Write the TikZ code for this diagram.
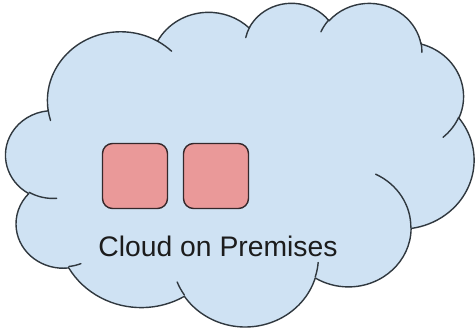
\documentclass[tikz,border=0pt]{standalone}
\usepackage{fontspec}
\setmainfont{Liberation Sans}
\definecolor{cloudfill}{HTML}{CFE2F3}
\definecolor{cloudedge}{HTML}{30383F}
\definecolor{boxfill}{HTML}{EA9999}
\definecolor{boxedge}{HTML}{35282B}
\definecolor{labeltext}{HTML}{1C1C1C}

% Convert a visual ellipse angle pair (start, sweep) into the parametric
% start/delta angles that TikZ's arc operation expects.
% #1 start macro, #2 delta macro, #3 x radius, #4 y radius, #5 start, #6 sweep
\newcommand\prepArc[6]{%
  \pgfmathsetmacro#1{atan2((#3)*sin(#5),(#4)*cos(#5))}%
  \pgfmathsetmacro\arcEndTmp{atan2((#3)*sin((#5)+(#6)),(#4)*cos((#5)+(#6)))}%
  \pgfmathsetmacro#2{\arcEndTmp-#1}%
  \pgfmathsetmacro#2{#2+360*((#6)>0)*(#2<0)-360*((#6)<0)*(#2>0)}%
}

\tikzset{
  cloudline/.style={draw=cloudedge, line width=1.4pt, line join=round, line cap=round},
  serverbox/.style={draw=boxedge, fill=boxfill, line width=1.4pt,
    rounded corners=10pt, minimum width=65pt, minimum height=65pt, inner sep=0pt},
  caption/.style={text=labeltext, inner sep=0pt,
    font=\fontsize{28.3}{34}\selectfont}
}

\begin{document}
\begin{tikzpicture}[x=1pt, y=1pt, yscale=-1]
  \useasboundingbox (0,0) rectangle (475,328);
  \fill[white] (0,0) rectangle (475,328);

  % outline arcs of the cloud
  \prepArc\osA\odA{67.53}{91.90}{-190.4875}{123.7805}
  \prepArc\osB\odB{53.33}{72.67}{-144.1024}{89.9452}
  \prepArc\osC\odC{43.65}{59.45}{-145.8079}{99.7230}
  \prepArc\osD\odD{48.57}{65.95}{-130.9861}{117.2417}
  \prepArc\osE\odE{53.33}{72.73}{-78.7089}{109.0269}
  \prepArc\osF\odF{67.75}{92.20}{-46.2673}{130.2690}
  \prepArc\osG\odG{57.85}{78.67}{0.6250}{114.0333}
  \prepArc\osH\odH{67.52}{92.15}{22.4516}{115.1726}
  \prepArc\osI\odI{77.20}{105.43}{66.2426}{75.7110}
  \prepArc\osJ\odJ{43.60}{59.18}{-274.9421}{146.7356}
  \prepArc\osK\odK{43.45}{59.45}{-246.8285}{152.5189}
  % inner fold arcs
  \prepArc\isA\idA{43.45}{59.45}{86.7420}{26.4295}
  \prepArc\isB\idB{43.60}{59.18}{73.6105}{11.4475}
  \prepArc\isC\idC{67.52}{92.15}{137.6242}{14.0811}
  \prepArc\isD\idD{67.52}{92.15}{6.4533}{15.9984}
  \prepArc\isE\idE{57.85}{78.67}{-70.2924}{70.9174}
  \prepArc\isF\idF{53.33}{72.73}{30.3180}{27.7515}
  \prepArc\isG\idG{48.57}{65.95}{-13.7443}{14.8589}
  \prepArc\isH\idH{48.57}{65.95}{-149.1815}{18.1954}
  \prepArc\isI\idI{43.65}{59.45}{-163.4943}{17.6864}
  \prepArc\isJ\idJ{67.53}{91.90}{-66.7070}{12.3194}
  \prepArc\isK\idK{67.53}{91.90}{157.6544}{11.8582}

  \begin{scope}[shift={(5.84,2.25)}, xscale=1.0835, yscale=0.749]
    \draw[cloudline, fill=cloudfill] (39.00,143.70)
      arc[start angle=\osA, delta angle=\odA, x radius=67.53, y radius=91.90]
      arc[start angle=\osB, delta angle=\odB, x radius=53.33, y radius=72.67]
      arc[start angle=\osC, delta angle=\odC, x radius=43.65, y radius=59.45]
      arc[start angle=\osD, delta angle=\odD, x radius=48.57, y radius=65.95]
      arc[start angle=\osE, delta angle=\odE, x radius=53.33, y radius=72.73]
      arc[start angle=\osF, delta angle=\odF, x radius=67.75, y radius=92.20]
      arc[start angle=\osG, delta angle=\odG, x radius=57.85, y radius=78.67]
      arc[start angle=\osH, delta angle=\odH, x radius=67.52, y radius=92.15]
      arc[start angle=\osI, delta angle=\odI, x radius=77.20, y radius=105.43]
      arc[start angle=\osJ, delta angle=\odJ, x radius=43.60, y radius=59.18]
      arc[start angle=\osK, delta angle=\odK, x radius=43.45, y radius=59.45]
      -- cycle;
    \draw[cloudline]
      (46.93,261.77) arc[start angle=\isA, delta angle=\idA, x radius=43.45, y radius=59.45]
      (69.28,348.99) arc[start angle=\isB, delta angle=\idB, x radius=43.60, y radius=59.18]
      (164.78,390.90) arc[start angle=\isC, delta angle=\idC, x radius=67.52, y radius=92.15]
      (288.27,347.51) arc[start angle=\isD, delta angle=\idD, x radius=67.52, y radius=92.15]
      (341.29,229.54) arc[start angle=\isE, delta angle=\idE, x radius=57.85, y radius=78.67]
      (417.98,153.54) arc[start angle=\isF, delta angle=\idF, x radius=53.33, y radius=72.73]
      (383.24,54.26) arc[start angle=\isG, delta angle=\idG, x radius=48.57, y radius=65.95]
      (290.78,39.52) arc[start angle=\isH, delta angle=\idH, x radius=48.57, y radius=65.95]
      (221.41,47.20) arc[start angle=\isI, delta angle=\idI, x radius=43.65, y radius=59.45]
      (140.00,51.92) arc[start angle=\isJ, delta angle=\idJ, x radius=67.53, y radius=91.90]
      (41.27,157.89) arc[start angle=\isK, delta angle=\idK, x radius=67.53, y radius=91.90];
  \end{scope}

  % two servers and the label
  \node[serverbox] (srvA) at (135,176) {};
  \node[serverbox] (srvB) at (216,176) {};
  \node[caption, anchor=base] (lbl) at (218,257) {Cloud on Premises};
\end{tikzpicture}
\end{document}
